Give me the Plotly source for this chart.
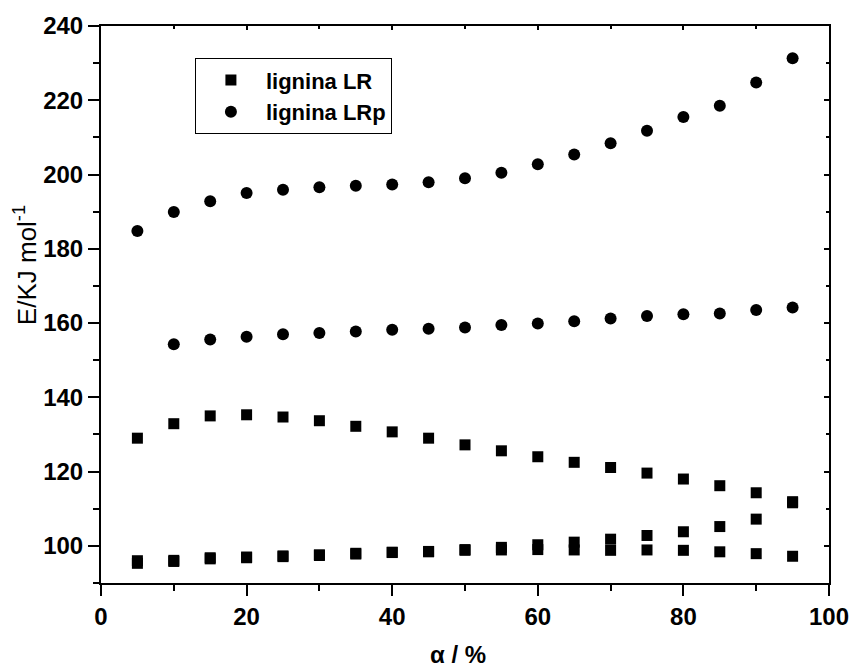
import plotly.graph_objects as go

# conversion degree (%)
alpha = [5, 10, 15, 20, 25, 30, 35, 40, 45, 50, 55, 60, 65, 70, 75, 80, 85, 90, 95]

# lignina LR (squares), three sets
lr_upper = [129.0, 132.9, 135.0, 135.3, 134.7, 133.7, 132.2, 130.7, 129.0, 127.2,
            125.6, 124.0, 122.5, 121.1, 119.6, 118.0, 116.2, 114.3, 111.9]
lr_rising = [95.3, 95.8, 96.5, 96.8, 97.1, 97.4, 97.8, 98.2, 98.5, 99.0,
             99.6, 100.3, 101.0, 101.8, 102.8, 103.8, 105.2, 107.2, 111.6]
lr_flat = [96.0, 96.1, 96.8, 97.0, 97.3, 97.6, 98.0, 98.3, 98.4, 98.8,
           98.9, 99.0, 98.9, 98.8, 98.9, 98.8, 98.4, 97.9, 97.2]

# lignina LRp (circles), two sets
lrp_upper = [184.8, 189.9, 192.8, 195.0, 195.9, 196.6, 197.0, 197.3, 197.9, 199.0,
             200.5, 202.8, 205.4, 208.4, 211.8, 215.5, 218.5, 224.8, 231.3]
lrp_lower = [None, 154.3, 155.6, 156.3, 157.0, 157.3, 157.7, 158.2, 158.5, 158.8,
             159.5, 159.9, 160.5, 161.2, 161.9, 162.4, 162.6, 163.5, 164.2]

x_ticks = [0, 20, 40, 60, 80, 100]
y_ticks = [100, 120, 140, 160, 180, 200, 220, 240]

FONT = "Liberation Sans, Arial, sans-serif"

fig = go.Figure()

sq = dict(symbol="square", size=11, color="black")
ci = dict(symbol="circle", size=12, color="black")

fig.add_trace(go.Scatter(x=alpha, y=lr_upper, mode="markers", marker=sq,
                         name="lignina LR", legendgroup="lr"))
fig.add_trace(go.Scatter(x=alpha, y=lr_rising, mode="markers", marker=sq,
                         name="lignina LR", legendgroup="lr", showlegend=False))
fig.add_trace(go.Scatter(x=alpha, y=lr_flat, mode="markers", marker=sq,
                         name="lignina LR", legendgroup="lr", showlegend=False))
fig.add_trace(go.Scatter(x=alpha, y=lrp_upper, mode="markers", marker=ci,
                         name="lignina LRp", legendgroup="lrp"))
fig.add_trace(go.Scatter(x=alpha, y=lrp_lower, mode="markers", marker=ci,
                         name="lignina LRp", legendgroup="lrp", showlegend=False))
# empty trace that carries the inner (top/right) tick axes
fig.add_trace(go.Scatter(x=[None], y=[None], xaxis="x2", yaxis="y2",
                         showlegend=False, hoverinfo="skip"))

tickfont = dict(family=FONT, size=24, color="black", weight="bold")

fig.update_layout(
    width=861, height=670,
    margin=dict(l=101, r=23, t=25, b=86.5),
    paper_bgcolor="white", plot_bgcolor="white",
    showlegend=True,
    legend=dict(
        x=0.129, y=0.942, xanchor="left", yanchor="top",
        bordercolor="black", borderwidth=1, bgcolor="white",
        font=dict(family=FONT, size=22, color="black", weight="bold"),
        itemwidth=60, tracegroupgap=0,
    ),
    xaxis=dict(
        range=[0, 100], tickvals=x_ticks, ticktext=[str(v) for v in x_ticks],
        ticks="outside", ticklen=11, tickwidth=2, tickcolor="black",
        showline=True, linewidth=2, linecolor="black", mirror=True,
        showgrid=False, zeroline=False, tickfont=tickfont,
        minor=dict(dtick=10, tick0=0, ticks="outside", ticklen=6, tickwidth=2,
                   tickcolor="black", showgrid=False),
    ),
    yaxis=dict(
        range=[90, 240], tickvals=y_ticks, ticktext=[str(v) for v in y_ticks],
        ticks="outside", ticklen=11, tickwidth=2, tickcolor="black",
        showline=True, linewidth=2, linecolor="black", mirror=True,
        showgrid=False, zeroline=False, tickfont=tickfont,
        minor=dict(dtick=10, tick0=90, ticks="outside", ticklen=6, tickwidth=2,
                   tickcolor="black", showgrid=False),
    ),
    xaxis2=dict(
        overlaying="x", side="top", anchor="y2", range=[0, 100], matches="x",
        tickvals=x_ticks, showticklabels=False,
        ticks="inside", ticklen=4, tickwidth=1.5, tickcolor="black",
        showline=False, showgrid=False, zeroline=False,
        minor=dict(dtick=10, tick0=0, ticks="inside", ticklen=3, tickwidth=1.5,
                   tickcolor="black", showgrid=False),
    ),
    yaxis2=dict(
        overlaying="y", side="right", anchor="x2", range=[90, 240], matches="y",
        tickvals=y_ticks, showticklabels=False,
        ticks="inside", ticklen=5, tickwidth=1.5, tickcolor="black",
        showline=False, showgrid=False, zeroline=False,
        minor=dict(dtick=10, tick0=90, ticks="inside", ticklen=3, tickwidth=1.5,
                   tickcolor="black", showgrid=False),
    ),
    annotations=[
        dict(text="E/KJ mol<sup>-1</sup>", textangle=-90, showarrow=False,
             xref="paper", yref="paper", x=-0.1035, y=0.57,
             xanchor="center", yanchor="middle",
             font=dict(family=FONT, size=26, color="black")),
        dict(text="α / %", showarrow=False,
             xref="paper", yref="paper", x=0.49, y=-0.128,
             xanchor="center", yanchor="middle",
             font=dict(family=FONT, size=24, color="black", weight="bold")),
    ],
)

fig.write_html("out.html")
